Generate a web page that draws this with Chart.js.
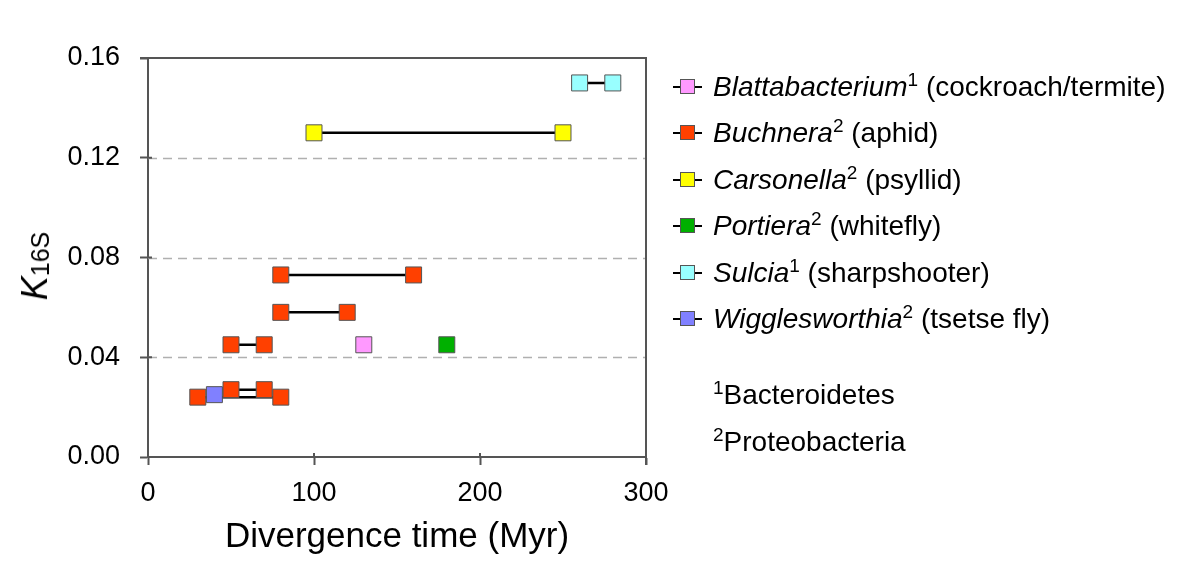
<!DOCTYPE html>
<html>
<head>
<meta charset="utf-8">
<script src="https://cdn.jsdelivr.net/npm/chart.js@4/dist/chart.umd.min.js"></script>
<style>
  body { margin: 0; background: #fff; }
  #wrap { position: relative; width: 1200px; height: 577px; font-family: "Liberation Sans", Arial, sans-serif; color: #000; }
  #ytitle { position: absolute; left: 35px; top: 266px; transform: translate(-50%, -50%) rotate(-90deg); white-space: nowrap; }
  #ytitle i { font-size: 36px; }
  #ytitle span { font-size: 25px; position: relative; top: 2px; }
  #legend { position: absolute; left: 673px; top: 64px; }
  .row { height: 46.4px; line-height: 46.4px; font-size: 28px; white-space: nowrap; }
  .mk { display: inline-block; position: relative; width: 29px; height: 46px; vertical-align: top; margin-right: 11px; }
  .mk::before { content: ""; position: absolute; left: 0; right: 0; top: 22px; height: 2px; background: #000; }
  .mk b { position: absolute; left: 7px; top: 15px; width: 13px; height: 13px; border: 1px solid #555; }
  sup { font-size: 19px; vertical-align: 0; position: relative; top: -10px; }
  #notes { position: absolute; left: 713px; top: 373px; font-size: 28px; line-height: 44px; }
</style>
</head>
<body>
<div id="wrap">
  <canvas id="chart" width="1200" height="577"></canvas>
  <div id="ytitle"><i>K</i><span>16S</span></div>
  <div id="legend"></div>
  <div id="notes">
    <div><sup>1</sup>Bacteroidetes</div>
    <div><sup>2</sup>Proteobacteria</div>
  </div>
</div>
<script>
// each group: divergence times (Myr) and one K16S value; two times = a connected pair
const groupNames = ["Blattabacterium", "Buchnera", "Carsonella", "Portiera", "Sulcia", "Wigglesworthia"];
const groupHosts = ["cockroach/termite", "aphid", "psyllid", "whitefly", "sharpshooter", "tsetse fly"];
const groupNotes = ["1", "2", "2", "2", "1", "2"];
const groupColors = ["#ff99ff", "#ff4000", "#ffff00", "#00b000", "#99ffff", "#8080ff"];

const blattaTimes = [[130]];
const blattaK = [0.045];
const buchneraTimes = [[30, 80], [50, 70], [50, 70], [80, 120], [80, 160]];
const buchneraK = [0.024, 0.027, 0.045, 0.058, 0.073];
const carsonellaTimes = [[100, 250]];
const carsonellaK = [0.130];
const portieraTimes = [[180]];
const portieraK = [0.045];
const sulciaTimes = [[260, 280]];
const sulciaK = [0.150];
const wiggleTimes = [[40]];
const wiggleK = [0.025];

const xTicks = [0, 100, 200, 300];
const yTicks = [0, 0.04, 0.08, 0.12, 0.16];

const groups = [
  [blattaTimes, blattaK],
  [buchneraTimes, buchneraK],
  [carsonellaTimes, carsonellaK],
  [portieraTimes, portieraK],
  [sulciaTimes, sulciaK],
  [wiggleTimes, wiggleK]
];

const datasets = [];
groups.forEach(([times, ks], g) => {
  times.forEach((pair, i) => {
    const pts = pair.map(t => ({ x: t, y: ks[i] }));
    if (pts.length > 1) {
      datasets.push({
        data: pts, showLine: true, borderColor: "#000", borderWidth: 2.5,
        pointRadius: 0, order: 2
      });
    }
    datasets.push({
      data: pts, showLine: false, pointStyle: "rect", pointRadius: 11.3,
      backgroundColor: groupColors[g], borderColor: "#555", borderWidth: 1, order: 1
    });
  });
});

// legend as html text
const legend = document.getElementById("legend");
groupNames.forEach((name, i) => {
  const row = document.createElement("div");
  row.className = "row";
  row.innerHTML = '<span class="mk"><b style="background:' + groupColors[i] + '"></b></span>' +
    '<i>' + name + '</i><sup>' + groupNotes[i] + '</sup> (' + groupHosts[i] + ')';
  legend.appendChild(row);
});

const frame = {
  id: "frame",
  beforeDatasetsDraw(chart) {
    const { ctx, chartArea: a, scales } = chart;
    ctx.save();
    ctx.strokeStyle = "#b0b0b0";
    ctx.lineWidth = 1.5;
    ctx.setLineDash([9, 6]);
    yTicks.slice(1, -1).forEach(v => {
      const y = Math.round(scales.y.getPixelForValue(v)) + 0.5;
      ctx.beginPath();
      ctx.moveTo(a.left, y);
      ctx.lineTo(a.right, y);
      ctx.stroke();
    });
    ctx.setLineDash([]);
    ctx.strokeStyle = "#555";
    ctx.lineWidth = 2;
    ctx.beginPath();
    ctx.moveTo(a.left - 8, a.top);
    ctx.lineTo(a.right, a.top);
    ctx.lineTo(a.right, a.bottom + 8);
    yTicks.forEach(v => {
      const y = scales.y.getPixelForValue(v);
      ctx.moveTo(a.left, y);
      ctx.lineTo(a.left + 4, y);
    });
    xTicks.forEach(v => {
      const x = scales.x.getPixelForValue(v);
      ctx.moveTo(x, a.bottom);
      ctx.lineTo(x, a.bottom - 4);
    });
    ctx.stroke();
    ctx.restore();
  }
};

new Chart(document.getElementById("chart").getContext("2d"), {
  type: "scatter",
  data: { datasets: datasets },
  options: {
    responsive: false,
    animation: false,
    layout: { padding: { left: 0, top: 58, right: 554, bottom: 0 } },
    plugins: { legend: { display: false }, tooltip: { enabled: false } },
    scales: {
      x: {
        type: "linear", min: 0, max: 300,
        afterBuildTicks: s => { s.ticks = xTicks.map(v => ({ value: v })); },
        afterFit: s => { s.height = 120; },
        ticks: { color: "#000", font: { family: "Liberation Sans", size: 27 }, padding: 12 },
        grid: { drawOnChartArea: false, tickLength: 8, tickColor: "#555", tickWidth: 2 },
        border: { color: "#555", width: 2 },
        title: {
          display: true, text: "Divergence time (Myr)", color: "#000",
          font: { family: "Liberation Sans", size: 35 }, padding: { top: 0, bottom: 19 }
        }
      },
      y: {
        type: "linear", min: 0, max: 0.16,
        afterBuildTicks: s => { s.ticks = yTicks.map(v => ({ value: v })); },
        afterFit: s => { s.width = 148; },
        ticks: { color: "#000", font: { family: "Liberation Sans", size: 27 }, padding: 20,
                 callback: v => v.toFixed(2) },
        grid: { drawOnChartArea: false, tickLength: 8, tickColor: "#555", tickWidth: 2 },
        border: { color: "#555", width: 2 }
      }
    }
  },
  plugins: [frame]
});
</script>
</body>
</html>
